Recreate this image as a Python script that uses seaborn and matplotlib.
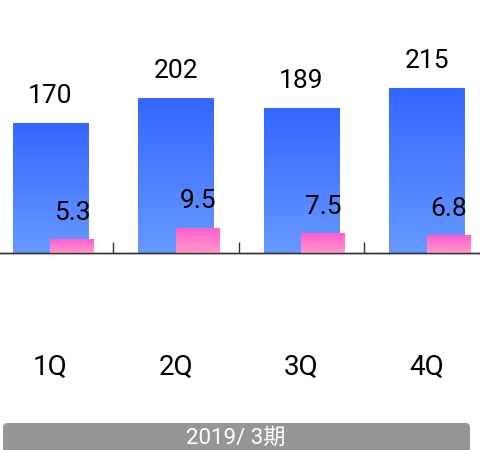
import numpy as np
import pandas as pd
import matplotlib
matplotlib.use("Agg")
from matplotlib import pyplot as plt
from matplotlib.patches import FancyBboxPatch
from matplotlib.colors import LinearSegmentedColormap
import matplotlib.transforms as mtransforms
import seaborn as sns

quarters = ["1Q", "2Q", "3Q", "4Q"]
sales = [170, 202, 189, 215]
profit = [5.3, 9.5, 7.5, 6.8]
period_label = "2019/ 3期"

sns.set_style("white")
plt.rcParams["font.family"] = ["Roboto", "Noto Sans CJK JP", "DejaVu Sans"]

df = pd.DataFrame({"quarter": quarters, "sales": sales, "profit": profit})

fig = plt.figure(figsize=(4.81, 4.5), dpi=100)
ax = fig.add_axes([0, 197 / 450, 1, 253 / 450])
ax2 = ax.twinx()

sns.barplot(data=df, x="quarter", y="sales", ax=ax, width=0.6, color="#3366ff")
sns.barplot(data=df, x="quarter", y="profit", ax=ax2, width=0.35, color="#ff66cc")
# pink bars sit to the right of the category centre
for p in ax2.patches:
    p.set_x(p.get_x() + 0.175)

xlim = (-0.401, 3.432)

blue_cmap = LinearSegmentedColormap.from_list("b", ["#6699ff", "#3366ff"])
pink_cmap = LinearSegmentedColormap.from_list("p", ["#ff99cc", "#ff5ccb"])
grad = np.linspace(0, 1, 256).reshape(-1, 1)
for axis, cmap in [(ax, blue_cmap), (ax2, pink_cmap)]:
    for p in axis.patches:
        x0, y0 = p.get_x(), p.get_y()
        w, h = p.get_width(), p.get_height()
        im = axis.imshow(grad, cmap=cmap, extent=(x0, x0 + w, y0, y0 + h),
                         origin="lower", aspect="auto", zorder=p.get_zorder())
        im.set_clip_path(p)
        p.set_facecolor("none")
        p.set_edgecolor("none")
    axis.set_xlim(xlim)
ax.set_ylim(0, 330.3)
ax2.set_ylim(0, 95.8)

for i, v in enumerate(sales):
    ax.annotate(f"{v}", (i, v), xytext=(0, 14.4), textcoords="offset points",
                ha="center", va="baseline", fontsize=19, color="black")
for i, v in enumerate(profit):
    ax2.annotate(f"{v}", (i + 0.175, v), xytext=(0, 14), textcoords="offset points",
                 ha="center", va="baseline", fontsize=19, color="black")

trans = mtransforms.blended_transform_factory(ax.transData, ax.transAxes)
for i, q in enumerate(quarters):
    ax.text(i, -0.482, q, transform=trans, ha="center", va="baseline",
            fontsize=20, color="black")

ax.set_xticks([0.5, 1.5, 2.5])
ax.set_xticklabels([])
ax.tick_params(axis="x", direction="in", length=8, width=1, color="#333333", bottom=True)
ax.set_yticks([])
ax2.set_yticks([])
ax.set_xlabel("")
ax.set_ylabel("")
ax2.set_ylabel("")
for axis in (ax, ax2):
    for s in ["top", "left", "right"]:
        axis.spines[s].set_visible(False)
    axis.spines["bottom"].set_color("#333333")
    axis.spines["bottom"].set_linewidth(1)
    axis.patch.set_visible(False)

box = FancyBboxPatch((3 / 481, -10 / 450), 467 / 481, 37 / 450,
                     boxstyle="round,pad=0,rounding_size=0.01",
                     transform=fig.transFigure, facecolor="#969696",
                     edgecolor="none")
fig.patches.append(box)
fig.text(236 / 481, 12 / 450, period_label, ha="center", va="center",
         fontsize=16, color="white")

fig.savefig("out.png", dpi=100)
